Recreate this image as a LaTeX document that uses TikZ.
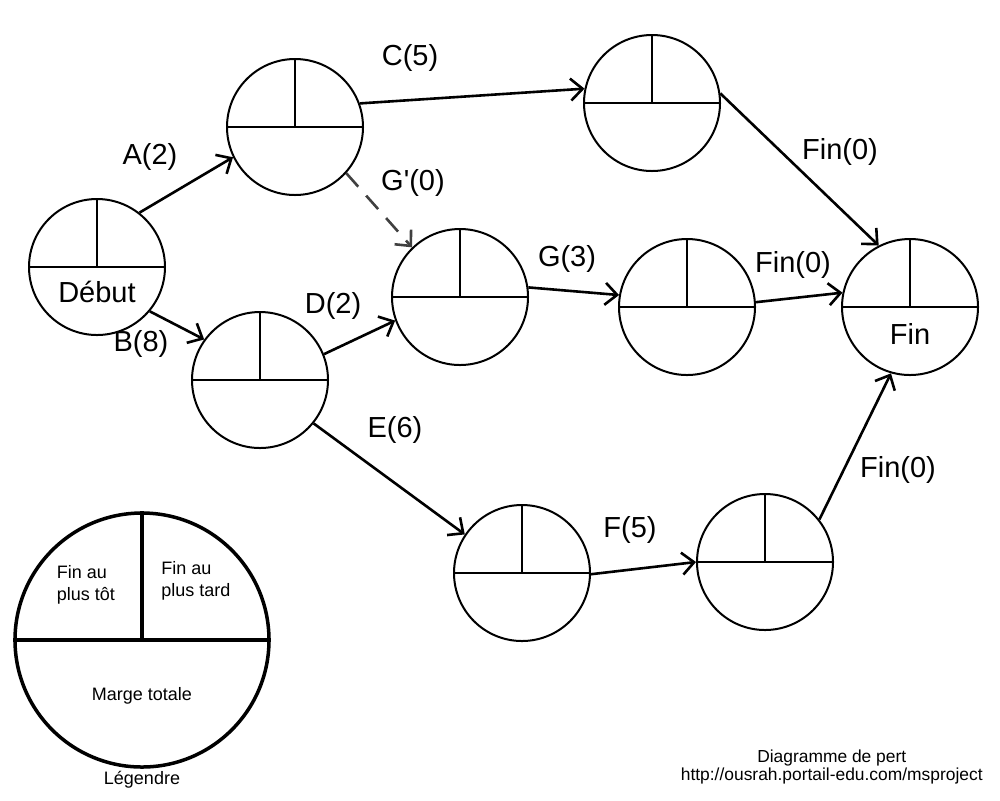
\documentclass[tikz,border=0pt]{standalone}
\usepackage{fontspec}
\setmainfont{Liberation Sans}
\usetikzlibrary{arrows.meta}
\begin{document}
\begin{tikzpicture}[x=0.5pt, y=-0.5pt,
    event/.style={draw, circle, line width=1pt, minimum size=68pt, inner sep=0pt},
    task/.style={line width=1.3pt, -{Straight Barb[length=6pt,width=11pt,line width=1.3pt]}},
    dummy/.style={task, draw=black!75, dash pattern=on 9pt off 6pt},
    lab/.style={font=\fontsize{14.5}{17}\selectfont, inner sep=0pt},
    small/.style={font=\fontsize{9}{11}\selectfont, inner sep=0pt, align=left}]
    \useasboundingbox (0, 0) rectangle (1000, 800) ;
    % evenements
    \node[event] (debut) at (97, 267) {} ;
    \node[event] (a) at (295, 127) {} ;
    \node[event] (c) at (652, 103) {} ;
    \node[event] (b) at (260, 380) {} ;
    \node[event] (d) at (460, 297) {} ;
    \node[event] (g) at (687, 307) {} ;
    \node[event] (e) at (522, 573) {} ;
    \node[event] (f) at (765, 562) {} ;
    \node[event] (fin) at (910, 307) {} ;
    \foreach \n in {debut, a, c, b, d, g, e, f, fin}
      \draw[line width=1pt] (\n.west) -- (\n.east) (\n.north) -- (\n.center) ;
    \node[lab] (tdebut) at (97, 292) {Début} ;
    \node[lab] (tfin) at (910, 334) {Fin} ;
    % taches
    \draw[task] (debut.52) -- (a.206) ;
    \draw[task] (debut.-40) -- (b.144) ;
    \draw[task] (a.20) -- (c.168) ;
    \draw[dummy] (a.-42) -- (d.134) ;
    \draw[task] (b.22) -- (d.200) ;
    \draw[task] (b.-39) -- (e.146) ;
    \draw[task] (d.8) -- (g.170) ;
    \draw[task] (c.8) -- (fin.117) ;
    \draw[task] (g.4) -- (fin.168) ;
    \draw[task] (e.-1) -- (f.180) ;
    \draw[task] (f.38) -- (fin.254) ;
    \node[lab] (la) at (150, 157) {A(2)} ;
    \node[lab] (lb) at (141, 344) {B(8)} ;
    \node[lab] (lc) at (410, 58) {C(5)} ;
    \node[lab] (lgp) at (413, 183) {G\textquotesingle(0)} ;
    \node[lab] (ld) at (333, 306) {D(2)} ;
    \node[lab] (le) at (395, 430) {E(6)} ;
    \node[lab] (lg) at (567, 259) {G(3)} ;
    \node[lab] (lf) at (630, 530) {F(5)} ;
    \node[lab] (lfin1) at (840, 152) {Fin(0)} ;
    \node[lab] (lfin2) at (793, 265) {Fin(0)} ;
    \node[lab] (lfin3) at (898, 470) {Fin(0)} ;
    % legende
    \node[draw, circle, line width=1.75pt, minimum size=127pt, inner sep=0pt] (leg) at (142, 640) {} ;
    \draw[line width=1.75pt] (leg.west) -- (leg.east) (leg.north) -- (leg.center) ;
    \node[small] (tot) at (86, 585) {Fin au\\plus tôt} ;
    \node[small] (tard) at (196, 581) {Fin au\\plus tard} ;
    \node[small] (marge) at (142, 696) {Marge totale} ;
    \node[small] (legende) at (142, 780) {Légendre} ;
    \node[small, align=center, font=\fontsize{8.7}{9}\selectfont, anchor=east] (credit) at (983, 767)
      {Diagramme de pert\\http://ousrah.portail-edu.com/msproject} ;
  \end{tikzpicture}
\end{document}
